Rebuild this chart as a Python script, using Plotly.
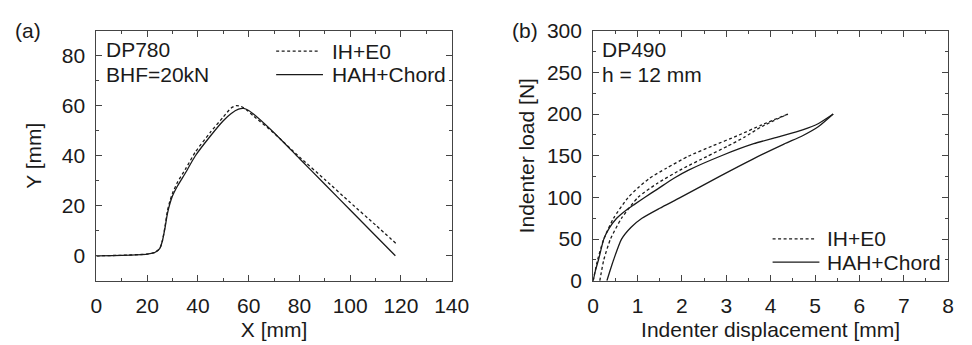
import plotly.graph_objects as go

# Panel (a): DP780, BHF=20kN  (X [mm], Y [mm])
a_ih_x = [0, 10, 20, 23, 25, 26, 27, 28, 29, 30, 32, 35, 39, 45, 50, 53, 55, 57, 59, 62, 70, 80, 90, 100, 110, 118.4]
a_ih_y = [0, 0.2, 0.7, 1.3, 3, 6, 11.5, 18, 22, 25, 29.5, 34.5, 41.5, 49.5, 55.5, 59, 60, 59.7, 58.5, 55.8, 49, 39.5, 30.5, 21.3, 12.3, 4.6]
a_hah_x = [0, 10, 20, 23, 25, 26, 27, 28, 29, 30, 32, 35, 39, 45, 50, 53, 56, 58, 60, 62, 70, 80, 90, 100, 110, 117.8]
a_hah_y = [0, 0.2, 0.7, 1.3, 3, 6, 11, 17, 21, 24, 28, 33, 40, 48, 54, 56.8, 58.6, 58.9, 58.1, 56.6, 49.2, 38.9, 28.6, 18.3, 8.0, 0]

# Panel (b): DP490, h = 12 mm  (displacement [mm], load [N])
b_ih1_x = [0, 0.1, 0.24, 0.46, 0.79, 1.0, 1.27, 1.65, 2.15, 2.7, 3.25, 3.8, 4.39]
b_ih1_y = [0, 25, 50, 75, 100, 111, 123, 135, 149.5, 162, 174, 187, 200]
b_ih2_x = [0.15, 0.24, 0.39, 0.64, 1.01, 1.45, 2.0, 2.56, 3.03, 3.4, 3.8, 4.39]
b_ih2_y = [0, 25, 50, 75, 100, 117, 134, 149, 161.5, 172, 185, 200]
b_hah1_x = [0, 0.05, 0.12, 0.24, 0.35, 0.53, 0.75, 0.94, 1.16, 1.45, 1.82, 2.15, 2.89, 3.62, 4.2, 4.72, 5.08, 5.41]
b_hah1_y = [0, 12, 25, 50, 62, 75, 85, 92, 100, 110, 123, 132.7, 150, 164.4, 173, 181, 188.7, 200]
b_hah2_x = [0.31, 0.38, 0.46, 0.64, 0.85, 1.1, 1.5, 1.97, 2.84, 3.6, 4.3, 4.72, 5.08, 5.41]
b_hah2_y = [0, 12, 25, 50, 64, 75, 87, 100, 125, 146, 164, 174, 185, 200]

a_xticks = [0, 20, 40, 60, 80, 100, 120, 140]
a_yticks = [0, 20, 40, 60, 80]
b_xticks = [0, 1, 2, 3, 4, 5, 6, 7, 8]
b_yticks = [0, 50, 100, 150, 200, 250, 300]

legend_names = ["IH+E0", "HAH+Chord"]

FONT = "Liberation Sans, Arial, sans-serif"
FS = 21
INK = "#1a1a1a"
AX = "#444444"
DASH = "3px,2.5px"

fig = go.Figure()
dash_style = dict(color=INK, width=1.3, dash=DASH, shape="spline", smoothing=0.6)
solid_style = dict(color=INK, width=1.3, shape="spline", smoothing=0.6)

fig.add_trace(go.Scatter(x=a_ih_x, y=a_ih_y, mode="lines", line=dash_style,
                         name=legend_names[0], xaxis="x", yaxis="y", showlegend=False))
fig.add_trace(go.Scatter(x=a_hah_x, y=a_hah_y, mode="lines", line=solid_style,
                         name=legend_names[1], xaxis="x", yaxis="y", showlegend=False))
fig.add_trace(go.Scatter(x=b_ih1_x, y=b_ih1_y, mode="lines", line=dash_style,
                         name=legend_names[0], xaxis="x2", yaxis="y2", showlegend=False))
fig.add_trace(go.Scatter(x=b_ih2_x, y=b_ih2_y, mode="lines", line=dash_style,
                         name=legend_names[0], xaxis="x2", yaxis="y2", showlegend=False))
fig.add_trace(go.Scatter(x=b_hah1_x, y=b_hah1_y, mode="lines", line=solid_style,
                         name=legend_names[1], xaxis="x2", yaxis="y2", showlegend=False))
fig.add_trace(go.Scatter(x=b_hah2_x, y=b_hah2_y, mode="lines", line=solid_style,
                         name=legend_names[1], xaxis="x2", yaxis="y2", showlegend=False))

def axis(domain, rng, ticks, minor_dtick, title, anchor, standoff, lblstand):
    return dict(domain=domain, range=rng, tickmode="array", tickvals=ticks,
                ticktext=[str(t) for t in ticks], ticks="inside", ticklen=6, tickwidth=1,
                tickcolor=AX, showline=True, linecolor=AX, linewidth=1, mirror="ticks",
                showgrid=False, zeroline=False, anchor=anchor,
                minor=dict(ticks="inside", ticklen=3, dtick=minor_dtick, tickcolor=AX, showgrid=False),
                tickfont=dict(family=FONT, size=FS, color=INK),
                title=dict(text=title, font=dict(family=FONT, size=FS, color=INK), standoff=standoff),
                ticklabelstandoff=lblstand)

W, H = 972, 345
def px(x):
    return x / W
def py(y):
    return 1 - y / H

annotations = []
shapes = []

def text(s, x, y, size=FS):
    annotations.append(dict(text=s, x=px(x), y=py(y), xref="paper", yref="paper", showarrow=False,
                            xanchor="left", yanchor="middle", xshift=-1,
                            font=dict(family=FONT, size=size, color=INK)))

def legend_block(x0, x1, xt, y0, dy):
    # manual legend (longer line samples than Plotly's fixed legend symbol)
    for i, name in enumerate(legend_names):
        y = y0 + i * dy
        shapes.append(dict(type="line", xref="paper", yref="paper", x0=px(x0), x1=px(x1 + 3 * i),
                           y0=py(y), y1=py(y),
                           line=dict(color=INK, width=1.3, dash=DASH if i == 0 else "solid")))
        text(name, xt, y)

text("(a)", 8, 20)
text("(b)", 518, 20)
text("DP780", 102, 40)
text("BHF=20kN", 102, 67)
text("DP490", 610, 40)
text("h = 12 mm", 610, 67)
legend_block(277, 322, 333, 42, 25)
legend_block(786, 831, 841, 243, 25)

ya = [1 - 288 / 345, 1 - 20 / 345]
fig.update_layout(
    width=W, height=H, margin=dict(l=0, r=0, t=0, b=0),
    paper_bgcolor="white", plot_bgcolor="white", showlegend=False,
    xaxis=axis([92.7 / W, 457 / W], [0, 140], a_xticks, 10, "X [mm]", "y", 6, 6),
    yaxis=axis(ya, [-10, 90], a_yticks, 10, "Y [mm]", "x", 14, 6),
    xaxis2=axis([602 / W, 966 / W], [0, 8], b_xticks, 0.5, "Indenter displacement [mm]", "y2", 6, 6),
    yaxis2=axis(ya, [0, 300], b_yticks, 25, "Indenter load [N]", "x2", 6, 6),
    annotations=annotations, shapes=shapes,
)

fig.write_html("out.html")
